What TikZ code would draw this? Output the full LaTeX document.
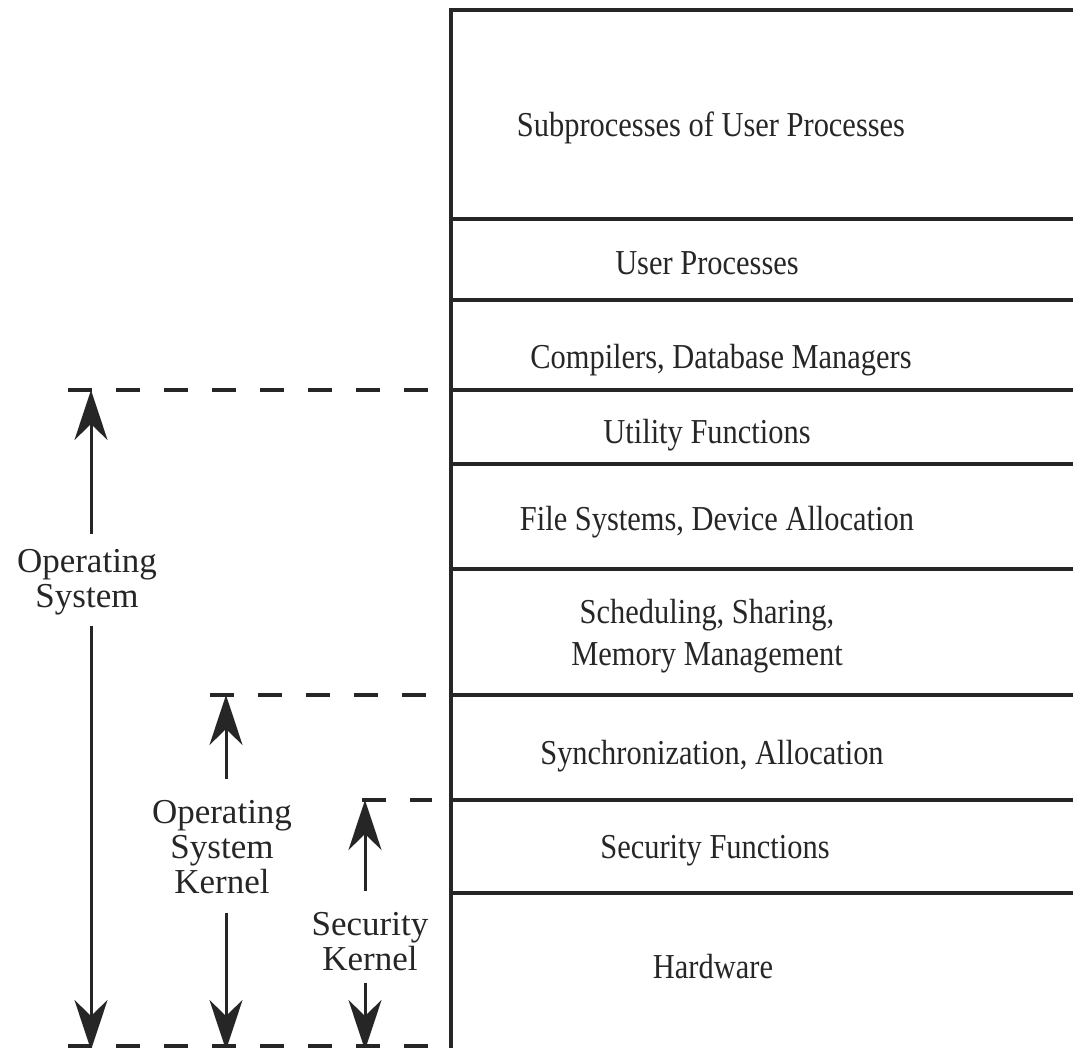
\documentclass[tikz,border=0pt]{standalone}
\usepackage{fontspec}
\setmainfont{Liberation Serif}
\newfontfamily\layerfont[FakeStretch=0.87]{Liberation Serif}
\usetikzlibrary{arrows.meta}
\begin{document}
\begin{tikzpicture}[x=1pt,y=-1pt,
  rule/.style={line width=3.2pt, draw=black!85},
  guide/.style={line width=3.5pt, dash pattern=on 24pt off 24pt, draw=black!85},
  layer/.style={font=\layerfont\fontsize{35}{42}\selectfont, align=center, text=black!85, inner sep=0pt, anchor=base},
  side/.style={font=\fontsize{35}{35}\selectfont, align=center, text=black!85, inner sep=0pt, anchor=base},
  span/.style={line width=3pt, draw=black!85, -{Stealth[length=50pt,width=33pt,inset=16pt]}}
]
\useasboundingbox (0,0) rectangle (1073,1048);

% layer stack
\draw[rule] (1073,10) -- (451,10) -- (451,1048);
\foreach \yy in {219,300,390,464,569,695,800,893}
  \draw[rule] (451,\yy) -- (1073,\yy);

\node[layer] (sub)  at (711,136.5) {Subprocesses of User Processes};
\node[layer] (user) at (707,274.5) {User Processes};
\node[layer] (comp) at (721,368.5) {Compilers, Database Managers};
\node[layer] (util) at (707,443.5) {Utility Functions};
\node[layer] (file) at (717,530.5) {File Systems, Device Allocation};
\node[layer] (sched) at (707,665) {Scheduling, Sharing,\\Memory Management};
\node[layer] (sync) at (712,764.5) {Synchronization, Allocation};
\node[layer] (secf) at (715,858.5) {Security Functions};
\node[layer] (hw)   at (713,978.5) {Hardware};

% guide lines
\coordinate (osTop)  at (91,390);
\coordinate (oskTop) at (226,695);
\coordinate (skTop)  at (365,800);
\coordinate (osBot)  at (91,1050);
\coordinate (oskBot) at (226,1050);
\coordinate (skBot)  at (365,1050);

\draw[guide] (68,390) -- (430,390);
\draw[guide] (210,695) -- (430,695);
\draw[guide] (362,800) -- (432,800);
\draw[guide] (68,1046) -- (445,1046);

% side labels
\node[side] (os)  at (87,607)  {Operating\\System};
\node[side] (osk) at (222,893) {Operating\\System\\Kernel};
\node[side] (sk)  at (370,970) {Security\\Kernel};

% spans
\draw[span, shorten <=15pt] (os.north -| osTop) -- (osTop);
\draw[span, shorten <=11pt] (os.south -| osBot) -- (osBot);
\draw[span, shorten <=21pt] (osk.north -| oskTop) -- (oskTop);
\draw[span, shorten <=19pt] (osk.south -| oskBot) -- (oskBot);
\draw[span, shorten <=21pt] (sk.north -| skTop) -- (skTop);
\draw[span, shorten <=12pt] (sk.south -| skBot) -- (skBot);
\end{tikzpicture}
\end{document}
